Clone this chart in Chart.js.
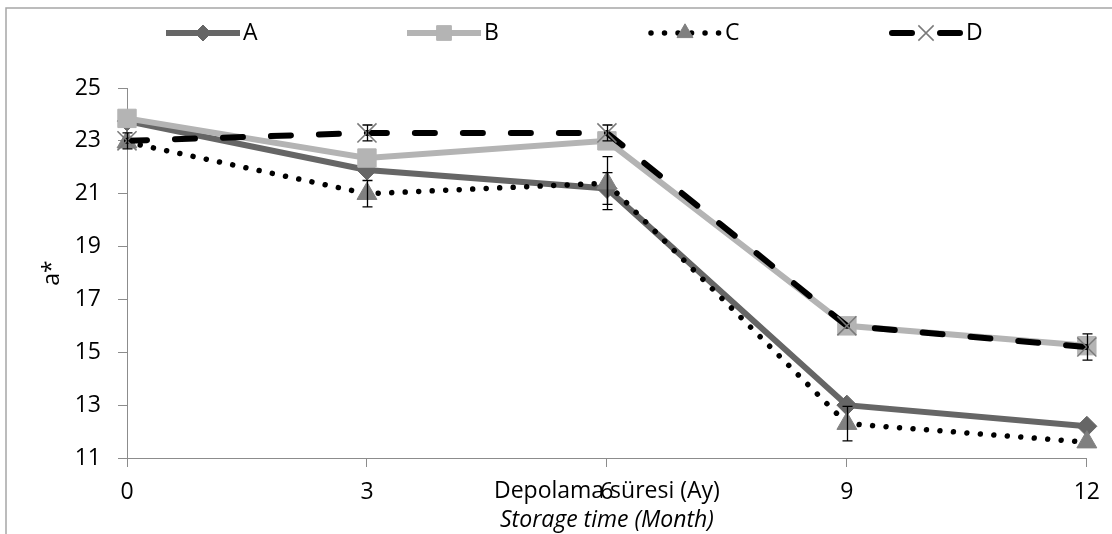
<!DOCTYPE html>
<html><head><meta charset="utf-8">
<script src="https://cdn.jsdelivr.net/npm/chart.js@4/dist/chart.umd.min.js"></script>
<style>html,body{margin:0;padding:0;background:#fff}canvas{display:block}</style>
</head><body>
<canvas id="c" width="1112" height="534"></canvas>
<script>
const categories = ['0', '3', '6', '9', '12'];
const seriesNames = ['A', 'B', 'C', 'D'];
const valuesA = [23.75, 21.9, 21.2, 13.0, 12.2];
const valuesB = [23.85, 22.35, 23.0, 16.0, 15.25];
const valuesC = [22.95, 21.0, 21.4, 12.3, 11.6];
const valuesD = [23.0, 23.3, 23.3, 16.0, 15.2];
const errorsA = [0, 0, 0.6, 0, 0];
const errorsB = [0, 0, 0, 0, 0];
const errorsC = [0, 0.5, 1.0, 0.65, 0];
const errorsD = [0.3, 0.3, 0.3, 0, 0.5];
const yTicks = [11, 13, 15, 17, 19, 21, 23, 25];
const xTitle1 = 'Depolama süresi (Ay)';
const xTitle2 = 'Storage time (Month)';
const yTitle = 'a*';

const FONT = "'Open Sans', 'Liberation Sans', sans-serif";
const FSIZE = 23;
const AXIS_COLOR = '#8c8c8c';

const datasets = [
  { label: seriesNames[0], data: valuesA, errors: errorsA, order: 4,
    borderColor: '#666666', backgroundColor: '#666666', borderWidth: 6,
    pointStyle: 'rectRot', pointRadius: 10, pointBackgroundColor: '#666666', pointBorderColor: '#666666', pointBorderWidth: 1 },
  { label: seriesNames[1], data: valuesB, errors: errorsB, order: 3,
    borderColor: '#b4b4b4', backgroundColor: '#b4b4b4', borderWidth: 6,
    pointStyle: 'rect', pointRadius: 13, pointBackgroundColor: '#b4b4b4', pointBorderColor: '#b4b4b4', pointBorderWidth: 1 },
  { label: seriesNames[2], data: valuesC, errors: errorsC, order: 2,
    borderColor: '#000000', backgroundColor: '#808080', borderWidth: 5.5,
    borderDash: [0.01, 13.5], borderCapStyle: 'round',
    pointStyle: 'triangle', pointRadius: 11.5, pointBackgroundColor: '#808080', pointBorderColor: '#808080', pointBorderWidth: 1 },
  { label: seriesNames[3], data: valuesD, errors: errorsD, order: 1,
    borderColor: '#000000', backgroundColor: '#808080', borderWidth: 6,
    borderDash: [20, 28], borderCapStyle: 'round',
    pointStyle: 'crossRot', pointRadius: 13.5, pointBackgroundColor: '#808080', pointBorderColor: '#7a7a7a', pointBorderWidth: 1.5 }
].map(d => Object.assign({ fill: false, tension: 0, clip: false, pointHoverRadius: d.pointRadius }, d));

const frameAndText = {
  id: 'frameAndText',
  beforeDraw(chart) {
    const ctx = chart.ctx;
    ctx.save();
    ctx.strokeStyle = '#a6a6a6';
    ctx.lineWidth = 1.5;
    ctx.strokeRect(6, 8, 1300, 700);
    ctx.restore();
  },
  afterDatasetsDraw(chart) {
    const ctx = chart.ctx;
    const ys = chart.scales.y;
    ctx.save();
    ctx.strokeStyle = '#000';
    ctx.lineWidth = 1.3;
    chart.data.datasets.forEach((ds, i) => {
      const meta = chart.getDatasetMeta(i);
      ds.errors.forEach((e, j) => {
        if (!e) return;
        const x = Math.round(meta.data[j].x) + 0.5;
        const yt = ys.getPixelForValue(ds.data[j] + e);
        const yb = ys.getPixelForValue(ds.data[j] - e);
        ctx.beginPath();
        ctx.moveTo(x, yt); ctx.lineTo(x, yb);
        ctx.moveTo(x - 5, yt); ctx.lineTo(x + 5, yt);
        ctx.moveTo(x - 5, yb); ctx.lineTo(x + 5, yb);
        ctx.stroke();
      });
    });
    ctx.restore();
  },
  afterDraw(chart) {
    const ctx = chart.ctx;
    const area = chart.chartArea;
    ctx.save();
    // legend
    const legendX = [166, 407, 648, 889];
    const legendY = 33;
    const sampleLen = 74;
    chart.data.datasets.forEach((ds, i) => {
      const x0 = legendX[i];
      ctx.save();
      ctx.strokeStyle = ds.borderColor;
      ctx.lineWidth = ds.borderWidth;
      ctx.lineCap = ds.borderCapStyle || 'butt';
      ctx.setLineDash(ds.borderDash || []);
      ctx.beginPath();
      ctx.moveTo(x0 + (ds.borderCapStyle === 'round' ? 3 : 0), legendY);
      ctx.lineTo(x0 + sampleLen - (ds.borderCapStyle === 'round' ? 3 : 0), legendY);
      ctx.stroke();
      ctx.restore();
      ctx.save();
      ctx.fillStyle = ds.pointBackgroundColor;
      ctx.strokeStyle = ds.pointBorderColor;
      ctx.lineWidth = ds.pointBorderWidth;
      Chart.helpers.drawPoint(ctx, { pointStyle: ds.pointStyle, radius: ds.pointRadius * 0.8, rotation: 0, borderWidth: ds.pointBorderWidth }, x0 + sampleLen / 2, legendY);
      ctx.restore();
      ctx.fillStyle = '#000';
      ctx.font = FSIZE + 'px ' + FONT;
      ctx.textAlign = 'left';
      ctx.textBaseline = 'middle';
      ctx.fillText(ds.label, x0 + sampleLen + 3, legendY);
    });
    // x title
    const cx = (area.left + area.right) / 2;
    ctx.fillStyle = '#000';
    ctx.textAlign = 'center';
    ctx.textBaseline = 'middle';
    ctx.font = FSIZE + 'px ' + FONT;
    ctx.fillText(xTitle1, cx, 491);
    ctx.font = 'italic ' + FSIZE + 'px ' + FONT;
    ctx.fillText(xTitle2, cx, 520);
    // y title
    ctx.translate(52, (area.top + area.bottom) / 2);
    ctx.rotate(-Math.PI / 2);
    ctx.font = FSIZE + 'px ' + FONT;
    ctx.fillText(yTitle, 0, 0);
    ctx.restore();
  }
};

new Chart(document.getElementById('c'), {
  type: 'line',
  data: { labels: categories, datasets },
  options: {
    responsive: false,
    animation: false,
    layout: { padding: { top: 88, right: 15, left: 0, bottom: 0 } },
    plugins: { legend: { display: false }, tooltip: { enabled: false }, title: { display: false } },
    scales: {
      x: {
        type: 'category', offset: false,
        grid: { drawOnChartArea: false, drawTicks: true, tickLength: 9, color: AXIS_COLOR },
        border: { color: AXIS_COLOR, width: 1 },
        ticks: { color: '#000', font: { family: FONT, size: FSIZE }, padding: 12, maxRotation: 0, autoSkip: false },
        afterFit(s) { s.height = 76; }
      },
      y: {
        min: 11, max: 25,
        afterBuildTicks(s) { s.ticks = yTicks.map(v => ({ value: v })); },
        grid: { drawOnChartArea: false, drawTicks: true, tickLength: 9, color: AXIS_COLOR },
        border: { color: AXIS_COLOR, width: 1 },
        ticks: { color: '#000', font: { family: FONT, size: FSIZE }, padding: 17 },
        afterFit(s) { s.width = 127; }
      }
    }
  },
  plugins: [frameAndText]
});
</script>
</body></html>
